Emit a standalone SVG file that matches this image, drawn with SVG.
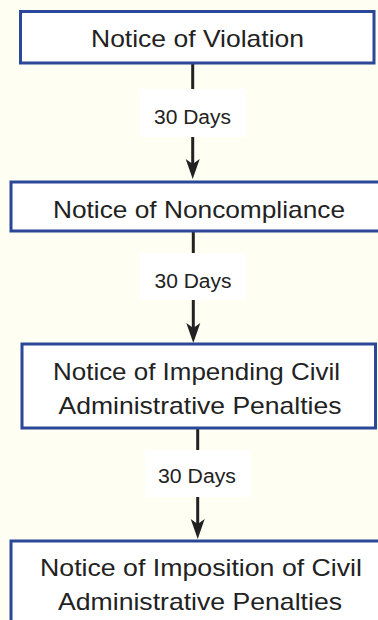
<svg xmlns="http://www.w3.org/2000/svg" width="378" height="620" viewBox="0 0 378 620">
<defs>
<style>
.bg{fill:#fefef3}
.box{fill:#ffffff;stroke:#2b4797;stroke-width:3}
.lbl{fill:#ffffff}
.t{font-family:"Liberation Sans",Arial,sans-serif;font-size:24px;fill:#222222;text-anchor:middle}
.d{font-family:"Liberation Sans",Arial,sans-serif;font-size:19.5px;fill:#222222;text-anchor:middle}
.ln{stroke:#222222;stroke-width:3;fill:none}
.hd{fill:#222222}
</style>
<path id="head" d="M0,0 L-7,-20 L0,-15 L7,-20 Z"/>
</defs>
<rect class="bg" x="0" y="0" width="378" height="620"/>
<g id="connectors">
<line class="ln" x1="192.7" y1="64" x2="192.7" y2="165"/>
<use href="#head" class="hd" x="192.7" y="179"/>
<rect class="lbl" x="140" y="89" width="106" height="48"/>
<text class="d" x="192.5" y="124" textLength="77" lengthAdjust="spacingAndGlyphs">30 Days</text>
<line class="ln" x1="193.3" y1="232" x2="193.3" y2="330"/>
<use href="#head" class="hd" x="193.3" y="343"/>
<rect class="lbl" x="140" y="253" width="106" height="47"/>
<text class="d" x="193" y="288" textLength="77" lengthAdjust="spacingAndGlyphs">30 Days</text>
<line class="ln" x1="197.7" y1="429" x2="197.7" y2="525"/>
<use href="#head" class="hd" x="197.7" y="539"/>
<rect class="lbl" x="145" y="450" width="106" height="47"/>
<text class="d" x="197" y="483" textLength="78" lengthAdjust="spacingAndGlyphs">30 Days</text>
</g>
<g id="node1">
<rect class="box" x="20.5" y="11.5" width="353.5" height="51.5"/>
<text class="t" x="197.5" y="46.7" textLength="213" lengthAdjust="spacingAndGlyphs">Notice of Violation</text>
</g>
<g id="node2">
<rect class="box" x="11" y="182" width="372" height="49"/>
<text class="t" x="199" y="217.7" textLength="292" lengthAdjust="spacingAndGlyphs">Notice of Noncompliance</text>
</g>
<g id="node3">
<rect class="box" x="22" y="344" width="353.5" height="84"/>
<text class="t" x="196.5" y="380" textLength="287" lengthAdjust="spacingAndGlyphs">Notice of Impending Civil</text>
<text class="t" x="200" y="414" textLength="283" lengthAdjust="spacingAndGlyphs">Administrative Penalties</text>
</g>
<g id="node4">
<rect class="box" x="11" y="541" width="372" height="90"/>
<text class="t" x="201" y="575.7" textLength="322" lengthAdjust="spacingAndGlyphs">Notice of Imposition of Civil</text>
<text class="t" x="200" y="610" textLength="284" lengthAdjust="spacingAndGlyphs">Administrative Penalties</text>
</g>
</svg>
